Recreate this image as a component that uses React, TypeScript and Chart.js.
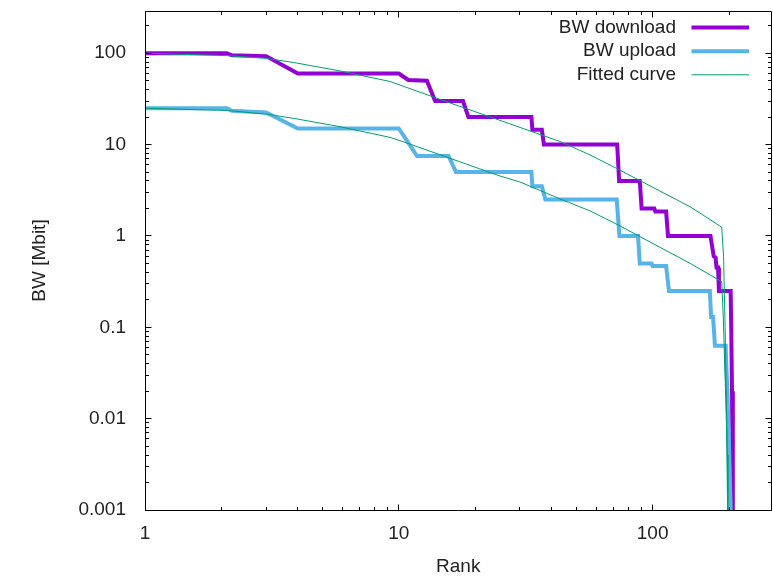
import React, { useEffect, useRef } from "react";
import { Chart, registerables } from "chart.js";

Chart.register(...registerables);

// ---- data ----
const downloadRank = [1, 2.1, 2.2, 3, 4, 10, 10.9, 12.9, 13.9, 17.9, 18.8, 33.3, 33.6, 36.6, 37.3, 72.5, 73.8, 89, 90.5, 101.5, 102.5, 113, 115, 169, 174, 177, 178.5, 181, 182.5, 203, 204, 205.5, 207];
const downloadBw = [100, 100, 95, 93, 60, 60, 51, 50, 30, 30, 20, 20, 14.5, 14.5, 10, 10, 4, 4, 2, 2, 1.85, 1.85, 1, 1, 0.6, 0.58, 0.45, 0.45, 0.25, 0.25, 0.1, 0.02, 0.001];

const uploadRank = [1, 2.1, 2.2, 3, 4, 10, 11.8, 15.7, 16.8, 33.3, 33.6, 36.6, 37.8, 72.2, 74, 87.6, 89, 99, 100, 113, 116, 168, 170, 173, 176, 194, 195, 197, 199, 201, 203];
const uploadBw = [25, 25, 23.5, 22.5, 15, 15, 7.5, 7.5, 5, 5, 3.5, 3.5, 2.5, 2.5, 1, 1, 0.5, 0.5, 0.47, 0.47, 0.25, 0.25, 0.13, 0.13, 0.063, 0.063, 0.04, 0.02, 0.008, 0.003, 0.001];

const fitDownRank = [1, 2.12, 3.02, 3.84, 5.87, 9.23, 15.9, 25.05, 43.2, 56.7, 72.2, 97.7, 140.4, 168.4, 187.2, 190.3, 193, 195, 197, 198];
const fitDownBw = [100, 94, 87.7, 79.3, 64.0, 49.1, 28.6, 18.4, 10.8, 7.7, 5.48, 3.53, 2.09, 1.51, 1.245, 0.6, 0.1, 0.02, 0.004, 0.001];

const fitUpRank = [1, 2.12, 3.02, 3.84, 5.87, 9.23, 10.87, 25.05, 30.0, 43.2, 56.7, 73.1, 89.2, 140.4, 187.2, 190, 193, 195.5, 197.5];
const fitUpBw = [25, 23.6, 21.5, 19.4, 15.7, 12.0, 10.3, 4.53, 3.9, 2.54, 1.88, 1.32, 0.982, 0.502, 0.316, 0.12, 0.03, 0.008, 0.001];

const seriesLabels = ["BW download", "BW upload", "Fitted curve"];
const xTickValues = [1, 10, 100];
const xTickLabels = ["1", "10", "100"];
const yTickValues = [0.001, 0.01, 0.1, 1, 10, 100];
const yTickLabels = ["0.001", "0.01", "0.1", "1", "10", "100"];
const xTitle = "Rank";
const yTitle = "BW [Mbit]";

const FONT = "'Liberation Sans', Arial, sans-serif";
const TEXT = "#222";

function logTicks(min: number, max: number) {
  const out: { v: number; major: boolean }[] = [];
  for (let d = Math.floor(Math.log10(min)); d <= Math.ceil(Math.log10(max)); d++) {
    for (let m = 1; m <= 9; m++) {
      const v = m * Math.pow(10, d);
      if (v >= min * 0.9999 && v <= max * 1.0001) out.push({ v, major: m === 1 });
    }
  }
  return out;
}

const framePlugin = {
  id: "gnuFrame",
  afterDraw(chart: any) {
    const { ctx, chartArea: a, scales } = chart;
    const xs = scales.x;
    const ys = scales.y;
    const L = Math.floor(a.left) + 0.5;
    const R = Math.floor(a.right) + 0.5;
    const T = Math.floor(a.top) + 0.5;
    const B = Math.floor(a.bottom) + 0.5;
    ctx.save();
    ctx.strokeStyle = "#000";
    ctx.lineWidth = 1;
    ctx.beginPath();
    ctx.rect(L, T, R - L, B - T);
    ctx.stroke();
    ctx.beginPath();
    for (const t of logTicks(xs.min, xs.max)) {
      const px = Math.floor(xs.getPixelForValue(t.v)) + 0.5;
      const len = t.major ? 6 : 3.5;
      ctx.moveTo(px, B);
      ctx.lineTo(px, B - len);
      ctx.moveTo(px, T);
      ctx.lineTo(px, T + len);
    }
    for (const t of logTicks(ys.min, ys.max)) {
      const py = Math.floor(ys.getPixelForValue(t.v)) + 0.5;
      const len = t.major ? 6 : 3.5;
      ctx.moveTo(L, py);
      ctx.lineTo(L + len, py);
      ctx.moveTo(R, py);
      ctx.lineTo(R - len, py);
    }
    ctx.stroke();

    // legend (gnuplot style: text right-aligned, sample to the right)
    ctx.font = `19px ${FONT}`;
    ctx.textAlign = "right";
    ctx.textBaseline = "middle";
    const ds = chart.data.datasets;
    for (let i = 0; i < 3; i++) {
      const d = ds[i];
      const y = a.top + 16.6 + i * 23.6;
      ctx.fillStyle = TEXT;
      ctx.fillText(d.label, a.right - 95.5, y);
      ctx.strokeStyle = d.borderColor;
      ctx.lineWidth = d.borderWidth;
      ctx.beginPath();
      ctx.moveTo(a.right - 80, y);
      ctx.lineTo(a.right - 22.5, y);
      ctx.stroke();
    }
    ctx.restore();
  },
};

export default function App() {
  const ref = useRef<HTMLCanvasElement>(null);
  useEffect(() => {
    const canvas = ref.current!;
    const pts = (xs: number[], ys: number[]) => xs.map((x, i) => ({ x, y: ys[i] }));
    const common = { pointRadius: 0, pointHoverRadius: 0, tension: 0, fill: false };
    const chart = new Chart(canvas, {
      type: "line",
      data: {
        datasets: [
          { ...common, label: seriesLabels[0], data: pts(downloadRank, downloadBw), borderColor: "#9400d3", borderWidth: 4, order: 3 },
          { ...common, label: seriesLabels[1], data: pts(uploadRank, uploadBw), borderColor: "#56b4e9", borderWidth: 4, order: 2 },
          { ...common, label: seriesLabels[2], data: pts(fitDownRank, fitDownBw), borderColor: "#009e73", borderWidth: 1, order: 1 },
          { ...common, label: "", data: pts(fitUpRank, fitUpBw), borderColor: "#009e73", borderWidth: 1, order: 0 },
        ],
      } as any,
      options: {
        animation: false,
        responsive: false,
        events: [],
        layout: { padding: { left: 0, top: 11, right: 1.5, bottom: 0 } },
        plugins: { legend: { display: false }, tooltip: { enabled: false }, title: { display: false } },
        scales: {
          x: {
            type: "logarithmic",
            position: "bottom",
            min: 1,
            max: 294,
            bounds: "data",
            afterBuildTicks: (s: any) => {
              s.ticks = xTickValues.map((v) => ({ value: v }));
            },
            afterFit: (s: any) => {
              s.height = 66;
              s.paddingLeft = 0;
              s.paddingRight = 0;
              s.paddingTop = 0;
              s.paddingBottom = 0;
            },
            grid: { display: false, drawTicks: false },
            border: { display: false },
            ticks: {
              autoSkip: false,
              maxRotation: 0,
              minRotation: 0,
              padding: 12,
              color: TEXT,
              font: { family: FONT, size: 19 },
              callback: (_v: any, i: number) => xTickLabels[i],
            },
            title: { display: true, text: xTitle, color: TEXT, font: { family: FONT, size: 19 }, padding: { top: 0, bottom: -2 } },
          },
          y: {
            type: "logarithmic",
            position: "left",
            min: 0.001,
            max: 290,
            bounds: "data",
            afterBuildTicks: (s: any) => {
              s.ticks = yTickValues.map((v) => ({ value: v }));
            },
            afterFit: (s: any) => {
              s.width = 145;
              s.paddingLeft = 0;
              s.paddingRight = 0;
              s.paddingTop = 0;
              s.paddingBottom = 0;
            },
            grid: { display: false, drawTicks: false },
            border: { display: false },
            ticks: {
              autoSkip: false,
              padding: 19,
              color: TEXT,
              font: { family: FONT, size: 19 },
              callback: (_v: any, i: number) => yTickLabels[i],
            },
            title: { display: true, text: yTitle, color: TEXT, font: { family: FONT, size: 19 }, padding: { top: 28.6, bottom: 0 } },
          },
        },
      } as any,
      plugins: [framePlugin],
    });
    return () => chart.destroy();
  }, []);
  return (
    <div style={{ position: "absolute", left: 0, top: 0, width: 773, height: 576, background: "#fff" }}>
      <canvas ref={ref} width={773} height={576} style={{ display: "block" }} />
    </div>
  );
}
